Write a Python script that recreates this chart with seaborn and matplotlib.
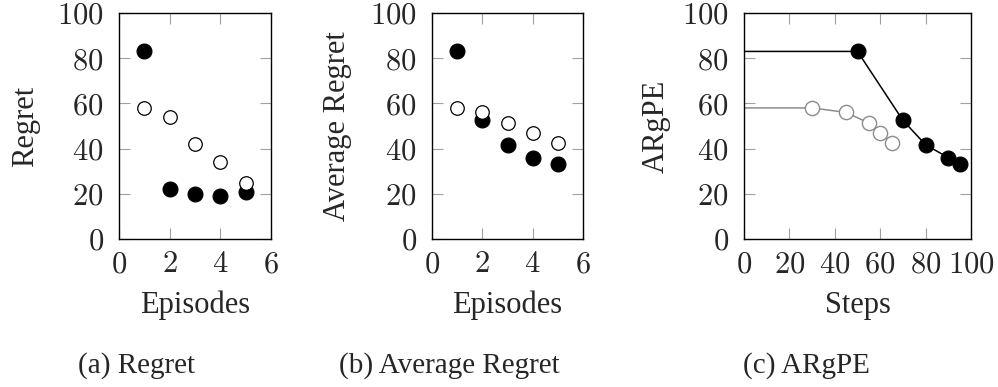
import matplotlib
matplotlib.use("Agg")
import matplotlib.pyplot as plt
import seaborn as sns
import pandas as pd

# Per-episode regret for the two agents
episodes = [1, 2, 3, 4, 5]
regret_filled = [83, 22, 20, 19, 21]
regret_open = [58, 54, 42, 34, 25]

# Running average of the regret
avg_regret_filled = [83, 52.5, 41.7, 36, 33]
avg_regret_open = [58, 56, 51.3, 47, 42.6]

# Average regret per episode against environment steps
steps_filled = [0, 50, 70, 80, 90, 95]
argpe_filled = [83, 83, 52.5, 41.7, 36, 33]
steps_open = [0, 30, 45, 55, 60, 65]
argpe_open = [58, 58, 56, 51.3, 47, 42.6]

y_ticks = [0, 20, 40, 60, 80, 100]
episode_ticks = [0, 2, 4, 6]
step_ticks = [0, 20, 40, 60, 80, 100]

sns.set_theme(style="white")
plt.rcParams["font.family"] = ["Liberation Serif", "DejaVu Serif"]
plt.rcParams["mathtext.fontset"] = "cm"

W, H = 998, 387
fig = plt.figure(figsize=(W / 100, H / 100), dpi=100)

def px_axes(left, right, top, bottom):
    return fig.add_axes([left / W, (H - bottom) / H, (right - left) / W, (bottom - top) / H])

ax_a = px_axes(119, 271, 13, 239)
ax_b = px_axes(432, 583, 13, 239)
ax_c = px_axes(744, 971, 13, 239)

FILLED = dict(color="black", s=115, edgecolor="black", linewidth=0.8, zorder=3)
OPEN = dict(facecolor="white", s=95, edgecolor="black", linewidth=0.9, zorder=3)

def style(ax, xticks, xlim):
    ax.set_xlim(*xlim)
    ax.set_ylim(0, 100)
    ax.set_xticks(xticks)
    ax.set_yticks(y_ticks)
    ax.set_xticklabels([f"${t}$" for t in xticks])
    ax.set_yticklabels([f"${t}$" for t in y_ticks])
    ax.tick_params(direction="in", length=8, width=0.8, color="#a0a0a0",
                   labelsize=22, top=True, right=True, bottom=True, left=True)
    ax.tick_params(axis="y", pad=11)
    ax.tick_params(axis="x", pad=8)
    for sp in ax.spines.values():
        sp.set_color("black")
        sp.set_linewidth(1.0)
        sp.set_visible(True)
    ax.grid(False)

def labels(ax, xlabel, ylabel, left_px, right_px, ylabel_px):
    width = right_px - left_px
    ax.set_xlabel(xlabel, fontsize=22)
    ax.set_ylabel(ylabel, fontsize=22)
    ax.xaxis.label.set_verticalalignment("baseline")
    ax.xaxis.set_label_coords(0.5, (239 - 313) / 226)
    ax.yaxis.set_label_coords((ylabel_px - left_px) / width, 0.5)

# (a) Regret
sns.scatterplot(x=episodes, y=regret_filled, ax=ax_a, **FILLED)
sns.scatterplot(x=episodes, y=regret_open, ax=ax_a, **OPEN)
style(ax_a, episode_ticks, (0, 6))
labels(ax_a, "Episodes", "Regret", 119, 271, 40)

# (b) Average regret
sns.scatterplot(x=episodes, y=avg_regret_filled, ax=ax_b, **FILLED)
sns.scatterplot(x=episodes, y=avg_regret_open, ax=ax_b, **OPEN)
style(ax_b, episode_ticks, (0, 6))
labels(ax_b, "Episodes", "Average Regret", 432, 583, 352)

# (c) ARgPE over steps
df_f = pd.DataFrame({"step": steps_filled, "v": argpe_filled})
df_o = pd.DataFrame({"step": steps_open, "v": argpe_open})
sns.lineplot(data=df_f, x="step", y="v", ax=ax_c, color="black", linewidth=1.1,
             estimator=None, sort=False)
sns.lineplot(data=df_o, x="step", y="v", ax=ax_c, color="#8c8c8c", linewidth=1.1,
             estimator=None, sort=False)
sns.scatterplot(data=df_f.iloc[1:], x="step", y="v", ax=ax_c, **FILLED)
sns.scatterplot(data=df_o.iloc[1:], x="step", y="v", ax=ax_c,
                facecolor="white", s=105, edgecolor="#8c8c8c", linewidth=1.0, zorder=3)
style(ax_c, step_ticks, (0, 100))
labels(ax_c, "Steps", "ARgPE", 744, 971, 671)

# Captions under each panel
for x_px, cap in [(137, "(a) Regret"), (449, "(b) Average Regret"), (806, "(c) ARgPE")]:
    fig.text(x_px / W, 1 - 373 / H, cap, fontsize=21, ha="center", va="baseline")

fig.savefig("out.png", dpi=100)
